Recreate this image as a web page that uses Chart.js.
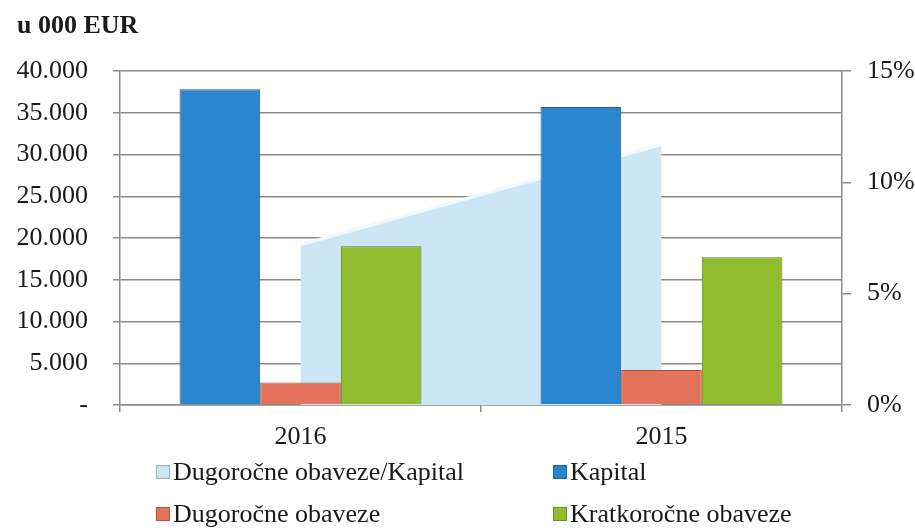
<!DOCTYPE html>
<html lang="hr">
  <head>
    <meta charset="UTF-8" />
    <title>Kapital i obaveze</title>
    <style>
      body { margin: 0; background: #fff; }
      #wrap { position: relative; width: 915px; height: 528px; font-family: "Liberation Serif", serif; color: #1a1a1a; }
      #naslov { position: absolute; left: 17px; top: 12px; font-size: 26px; line-height: 25px; font-weight: bold; }
      .leg { position: absolute; font-size: 26px; line-height: 30px; white-space: nowrap; }
      .leg i { display: inline-block; width: 14px; height: 14px; margin-right: 3px; vertical-align: 1px; box-sizing: border-box; border: 1px solid rgba(0,0,0,0.25); }
    </style>
  </head>
  <body>
    <div id="wrap">
      <canvas id="grafikon" width="915" height="528"></canvas>
      <div id="naslov">u 000 EUR</div>
      <div id="legenda"></div>
    </div>

    <script src="https://cdn.jsdelivr.net/npm/chart.js"></script>
    <script>
      // podaci
      const godine = ["2016", "2015"];
      const kapital = [37800, 35700];
      const dugorocne = [2700, 4200];
      const kratkorocne = [19000, 17700];
      const omjer = [7.2, 11.7]; // Dugoročne obaveze/Kapital, %

      const siva = "#8c8c8c";
      const font = { family: "Liberation Serif", size: 26 };

      function hiljade(v) {
        if (v === 0) return "-";
        return String(v).replace(/\B(?=(\d{3})+(?!\d))/g, ".");
      }

      const config = {
        type: "bar",
        data: {
          labels: godine,
          datasets: [
            {
              type: "line",
              label: "Dugoročne obaveze/Kapital",
              data: omjer,
              yAxisID: "y1",
              fill: "origin",
              backgroundColor: "#cde6f6",
              borderColor: "#f2f9fe",
              borderWidth: 3,
              pointRadius: 0,
              tension: 0,
              order: 10,
            },
            {
              label: "Kapital",
              data: kapital,
              backgroundColor: "#2b86d0",
              borderColor: "#1d5f97",
              borderWidth: 1,
              order: 0,
            },
            {
              label: "Dugoročne obaveze",
              data: dugorocne,
              backgroundColor: "#e3735a",
              borderColor: "#a9503b",
              borderWidth: 1,
              order: 0,
            },
            {
              label: "Kratkoročne obaveze",
              data: kratkorocne,
              backgroundColor: "#8fbd2f",
              borderColor: "#5f8219",
              borderWidth: 1,
              order: 0,
            },
          ],
        },
        options: {
          responsive: false,
          animation: false,
          datasets: {
            bar: { categoryPercentage: 0.67, barPercentage: 1 },
          },
          plugins: {
            legend: { display: false },
            tooltip: { enabled: false },
          },
          layout: { padding: { top: 71, left: 0, right: 0, bottom: 0 } },
          scales: {
            x: {
              grid: { drawOnChartArea: false, color: siva, tickLength: 7, lineWidth: 1.5 },
              border: { color: siva, width: 1.5 },
              ticks: { font: font, color: "#1a1a1a", padding: 10 },
              afterFit: (a) => { a.height = 123; },
            },
            y: {
              position: "left",
              min: 0,
              max: 40000,
              grid: { color: siva, lineWidth: 1.5, tickLength: 7 },
              border: { color: siva, width: 1.5 },
              ticks: { stepSize: 5000, font: font, color: "#1a1a1a", padding: 25, callback: (v) => hiljade(v) },
              afterFit: (a) => { a.width = 120; },
            },
            y1: {
              position: "right",
              min: 0,
              max: 15,
              grid: { drawOnChartArea: false, color: siva, lineWidth: 1.5, tickLength: 9 },
              border: { color: siva, width: 1.5 },
              ticks: { stepSize: 5, font: font, color: "#1a1a1a", padding: 16, callback: (v) => v + "%" },
              afterFit: (a) => { a.width = 73; },
            },
          },
        },
      };

      const ctx = document.getElementById("grafikon").getContext("2d");
      const chart = new Chart(ctx, config);

      // legenda u dva stupca
      const legenda = document.getElementById("legenda");
      const stupci = [156, 553];
      const redovi = [457, 499];
      chart.data.datasets.forEach((ds, i) => {
        const el = document.createElement("div");
        el.className = "leg";
        el.style.left = stupci[i % 2] + "px";
        el.style.top = redovi[Math.floor(i / 2)] + "px";
        const boja = ds.type === "line" ? "#cde6f6" : ds.backgroundColor;
        el.innerHTML = '<i style="background:' + boja + '"></i>' + ds.label;
        legenda.appendChild(el);
      });
    </script>
  </body>
</html>
